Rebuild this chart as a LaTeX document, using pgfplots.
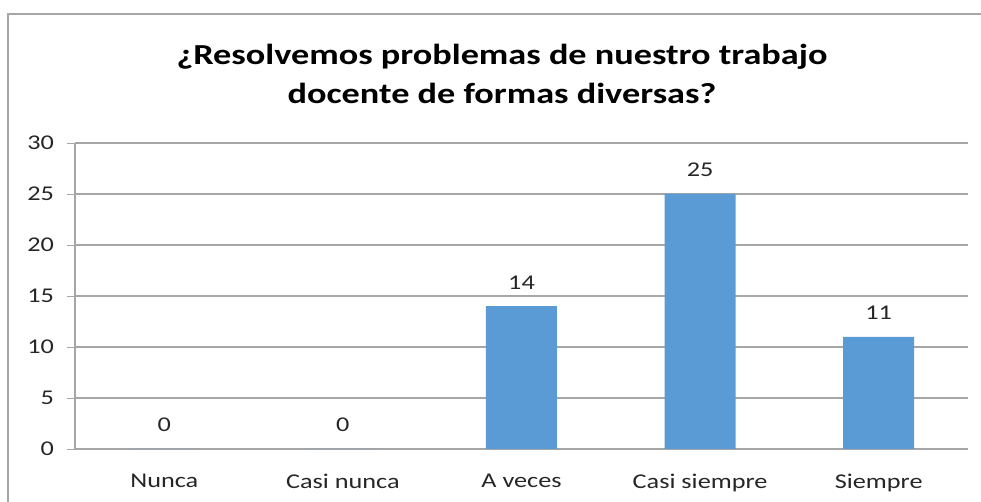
\documentclass[border=0pt]{standalone}
\usepackage{fontspec}
\setmainfont{Carlito}[FakeStretch=1.25]
\usepackage{pgfplots}
\pgfplotsset{compat=1.18}
\definecolor{barblue}{HTML}{5B9BD5}
\definecolor{gridgray}{HTML}{A6A6A6}
\begin{document}
\begin{tikzpicture}
\useasboundingbox (0,0) rectangle (490.5pt,251pt);
\begin{scope}
\clip (0,0) rectangle (490.5pt,251pt);
\draw[gridgray, line width=0.6pt] (4pt,-10pt) -- (4pt,244pt) -- (500pt,244pt);
\end{scope}
\node[font=\bfseries\fontsize{14.5}{17}\selectfont, anchor=base] at (251pt,218.5pt) {¿Resolvemos problemas de nuestro trabajo};
\node[font=\bfseries\fontsize{14.5}{17}\selectfont, anchor=base] at (251pt,199pt) {docente de formas diversas?};
\begin{axis}[
  at={(37.5pt,26.5pt)}, anchor=south west,
  scale only axis, width=446.5pt, height=153pt,
  ybar, bar width=35.5pt,
  xmin=-0.5, xmax=4.5, ymin=0, ymax=30,
  ytick={0,5,...,30},
  xtick={0,1,2,3,4},
  xticklabels={Nunca,Casi nunca,A veces,Casi siempre,Siempre},
  xtick style={draw=none},
  extra x ticks={-0.5,0.5,1.5,2.5,3.5,4.5},
  extra x tick labels={},
  extra x tick style={grid=none, tick style={draw=gridgray}},
  tick align=outside, major tick length=4pt,
  ymajorgrids, grid style={gridgray, line width=0.6pt},
  axis x line*=bottom, axis y line*=left,
  axis line style={gridgray, line width=0.6pt, -},
  ytick style={draw=gridgray},
  tick label style={font=\fontsize{10.5}{12}\selectfont, text=black!85},
  yticklabel style={xshift=-3pt},
  xticklabel style={yshift=-5pt},
  /pgf/number format/assume math mode=true,
  nodes near coords,
  every node near coord/.append style={font=\fontsize{10.5}{12}\selectfont, text=black!85, anchor=base, yshift=8.5pt},
  clip=false,
]
\addplot[fill=barblue, draw=none] coordinates {(0,0) (1,0) (2,14) (3,25) (4,11)};
\end{axis}
\end{tikzpicture}
\end{document}
